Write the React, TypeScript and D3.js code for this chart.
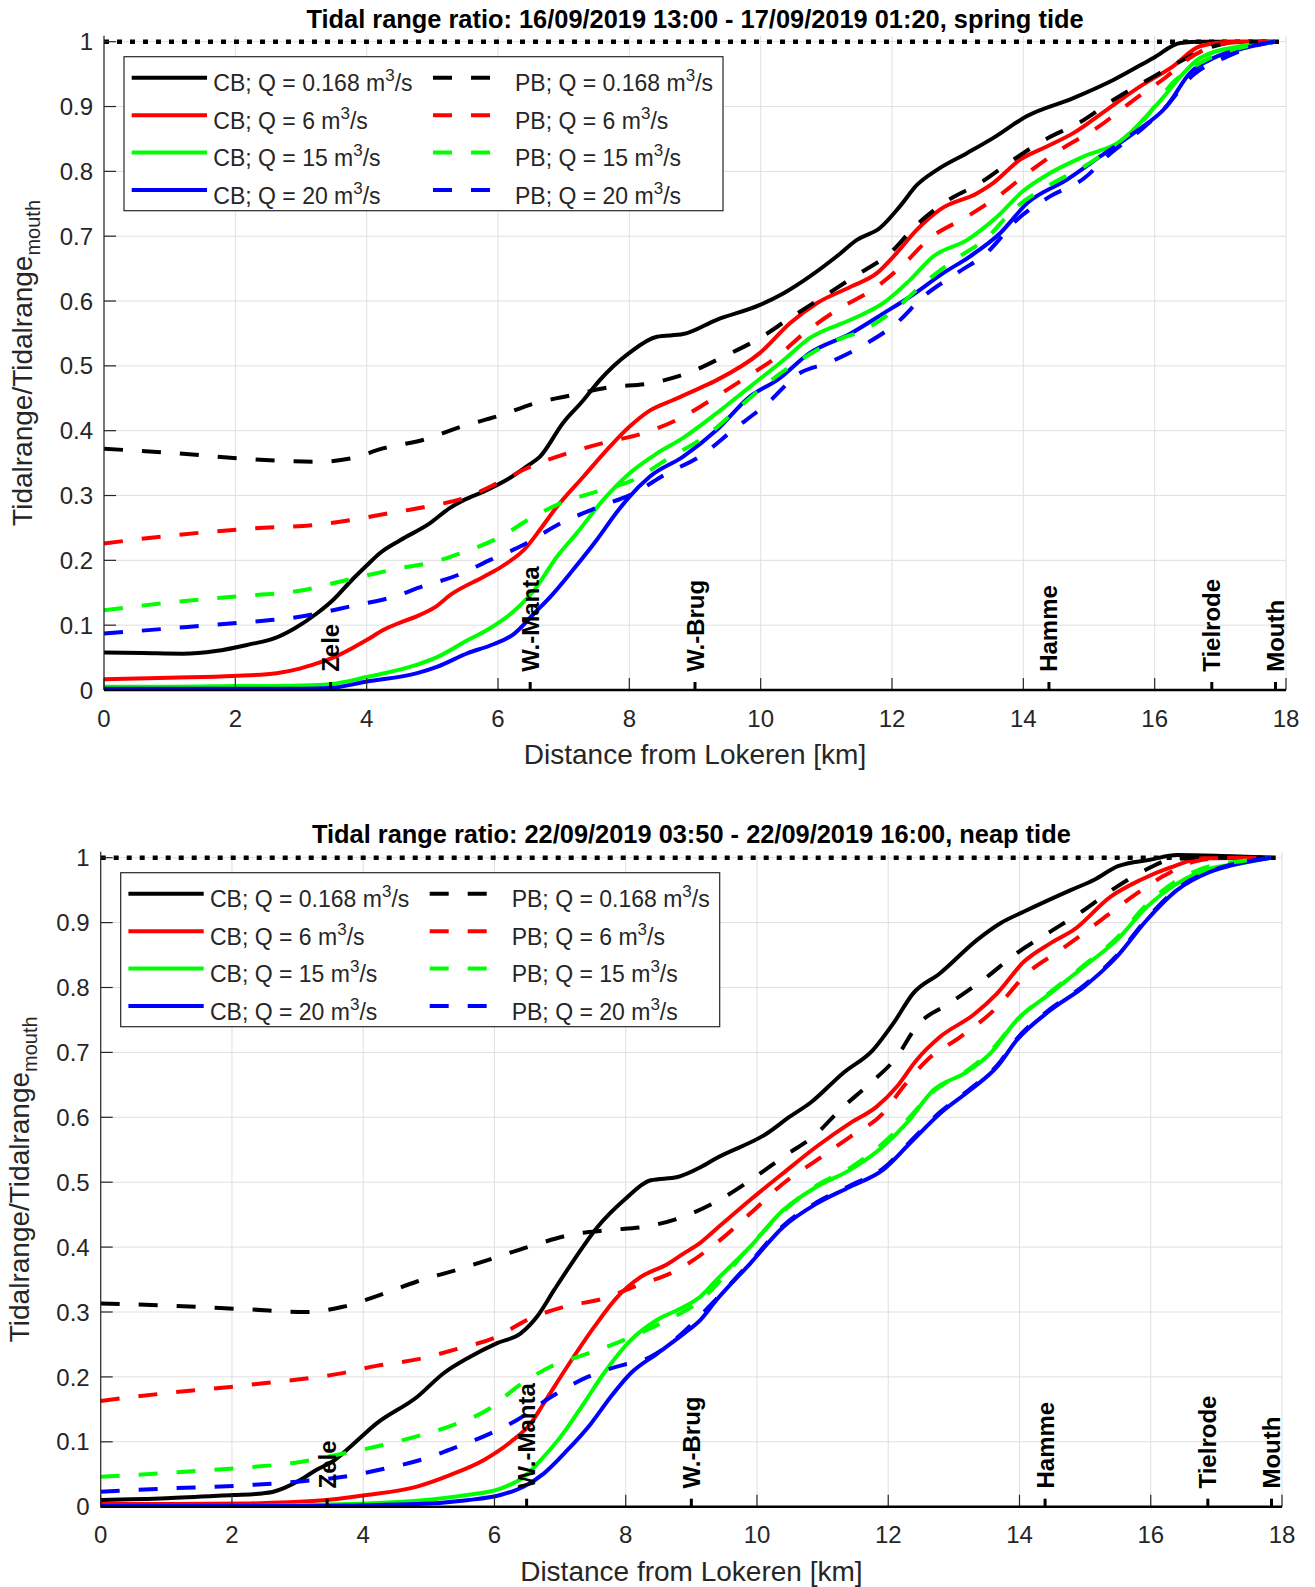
import React from 'react';
import * as d3 from 'd3';

type Pt = [number, number];

// ---------- DATA ----------
const flows = ['0.168', '6', '15', '20'];
const colors = ['#000000', '#ff0000', '#00ff00', '#0000ff'];
const xTicks = [0, 2, 4, 6, 8, 10, 12, 14, 16, 18];
const yTicks = [0, 0.1, 0.2, 0.3, 0.4, 0.5, 0.6, 0.7, 0.8, 0.9, 1];
const locNames = ['Zele', 'W.-Manta', 'W.-Brug', 'Hamme', 'Tielrode', 'Mouth'];
const locKm = [3.45, 6.49, 9.0, 14.39, 16.87, 17.84];

const springTitle = 'Tidal range ratio: 16/09/2019 13:00 - 17/09/2019 01:20, spring tide';
const neapTitle = 'Tidal range ratio: 22/09/2019 03:50 - 22/09/2019 16:00, neap tide';

// Spring tide, closed boundary (CB)
const springCB0168: Pt[] = [[0,0.058],[0.6,0.057],[1.2,0.056],[1.7,0.06],[2.2,0.07],[2.6,0.08],[2.9,0.095],[3.24,0.118],[3.5,0.14],[3.75,0.167],[4.0,0.192],[4.2,0.211],[4.51,0.231],[4.96,0.257],[5.27,0.281],[5.5,0.294],[5.78,0.306],[6.18,0.327],[6.44,0.345],[6.64,0.36],[6.99,0.412],[7.3,0.447],[7.55,0.478],[8.0,0.52],[8.42,0.545],[8.82,0.549],[9.33,0.571],[9.99,0.594],[10.35,0.612],[10.75,0.638],[11.16,0.669],[11.46,0.694],[11.82,0.713],[12.12,0.746],[12.38,0.779],[12.68,0.802],[13.14,0.828],[13.55,0.852],[14.05,0.885],[14.76,0.913],[15.37,0.941],[15.98,0.975],[16.39,0.998],[16.7,1.0],[17.83,1.0]];
const springCB6: Pt[] = [[0,0.0165],[1,0.019],[1.97,0.0216],[2.63,0.026],[2.98,0.033],[3.24,0.041],[3.49,0.05],[3.75,0.063],[4.0,0.077],[4.26,0.093],[4.51,0.104],[4.77,0.114],[5.03,0.127],[5.28,0.147],[5.79,0.175],[6.05,0.19],[6.44,0.221],[6.6,0.242],[6.9,0.283],[7.3,0.329],[7.7,0.375],[8.0,0.406],[8.31,0.431],[8.66,0.447],[9.08,0.466],[9.33,0.478],[9.99,0.52],[10.45,0.566],[10.86,0.597],[11.37,0.622],[11.77,0.643],[12.07,0.674],[12.38,0.71],[12.73,0.741],[13.29,0.766],[13.54,0.782],[13.95,0.818],[14.35,0.838],[14.76,0.859],[15.27,0.895],[15.78,0.931],[16.28,0.962],[16.69,0.993],[17.2,1.0],[17.83,1.0]];
const springCB15: Pt[] = [[0,0.005],[1,0.005],[2,0.006],[3,0.007],[3.44,0.009],[4.0,0.02],[4.77,0.039],[5.08,0.051],[5.54,0.077],[5.84,0.093],[6.2,0.118],[6.55,0.154],[6.9,0.206],[7.2,0.242],[7.6,0.293],[8.0,0.334],[8.42,0.365],[8.82,0.389],[9.33,0.427],[9.84,0.468],[10.35,0.509],[10.75,0.543],[11.37,0.571],[11.87,0.597],[12.28,0.633],[12.63,0.669],[13.14,0.694],[13.6,0.73],[14.0,0.77],[14.4,0.797],[14.92,0.823],[15.5,0.848],[15.9,0.888],[16.18,0.92],[16.39,0.946],[16.69,0.975],[17.3,0.993],[17.83,1.0]];
const springCB20: Pt[] = [[0,0.002],[3,0.002],[3.44,0.003],[4.0,0.013],[4.77,0.026],[5.08,0.036],[5.54,0.057],[5.89,0.069],[6.25,0.087],[6.55,0.118],[6.8,0.144],[7.14,0.185],[7.5,0.231],[7.8,0.273],[8.0,0.298],[8.31,0.329],[8.82,0.36],[9.33,0.401],[9.84,0.453],[10.25,0.478],[10.75,0.52],[11.37,0.55],[11.87,0.581],[12.28,0.607],[12.78,0.643],[13.19,0.669],[13.65,0.705],[14.06,0.751],[14.66,0.787],[15.17,0.823],[15.68,0.859],[16.18,0.9],[16.54,0.952],[16.9,0.975],[17.4,0.991],[17.83,1.0]];

// Spring tide, prescribed boundary (PB)
const springPB0168: Pt[] = [[0,0.372],[1,0.366],[2.24,0.356],[3.24,0.352],[3.75,0.357],[4.26,0.373],[4.87,0.386],[5.43,0.406],[6.05,0.424],[6.55,0.442],[7.14,0.455],[7.7,0.467],[8.31,0.473],[8.92,0.49],[9.43,0.514],[9.99,0.543],[10.45,0.574],[10.96,0.607],[11.46,0.64],[11.97,0.674],[12.38,0.718],[12.83,0.754],[13.34,0.782],[13.85,0.818],[14.35,0.85],[14.87,0.876],[15.37,0.91],[15.98,0.946],[16.59,0.98],[16.9,0.993],[17.3,1.0],[17.83,1.0]];
const springPB6: Pt[] = [[0,0.226],[1,0.238],[2.24,0.249],[3.24,0.255],[3.75,0.262],[4.36,0.273],[4.92,0.283],[5.48,0.296],[5.99,0.319],[6.44,0.342],[7.05,0.365],[7.6,0.381],[8.21,0.396],[8.77,0.419],[9.33,0.453],[9.79,0.483],[10.25,0.514],[10.66,0.55],[11.16,0.586],[11.77,0.622],[12.17,0.656],[12.58,0.697],[13.14,0.73],[13.65,0.764],[14.06,0.797],[14.56,0.833],[15.12,0.867],[15.68,0.91],[16.18,0.946],[16.49,0.972],[17.1,0.998],[17.4,1.0],[17.83,1.0]];
const springPB15: Pt[] = [[0,0.123],[1,0.135],[1.97,0.144],[2.98,0.153],[3.75,0.171],[4.51,0.188],[5.0,0.197],[5.43,0.211],[6.05,0.237],[6.5,0.265],[6.95,0.288],[7.5,0.306],[8.06,0.324],[8.56,0.355],[9.22,0.396],[9.74,0.442],[10.1,0.473],[10.6,0.509],[11.1,0.537],[11.62,0.558],[12.07,0.589],[12.48,0.627],[12.99,0.666],[13.44,0.697],[13.85,0.741],[14.4,0.779],[14.92,0.807],[15.43,0.843],[15.84,0.88],[16.28,0.937],[16.69,0.967],[17.4,0.993],[17.83,1.0]];
const springPB20: Pt[] = [[0,0.087],[1,0.095],[1.97,0.103],[2.98,0.113],[3.75,0.129],[4.51,0.147],[4.77,0.157],[5.38,0.177],[5.89,0.201],[6.39,0.224],[6.95,0.257],[7.55,0.283],[8.06,0.303],[8.57,0.334],[9.07,0.36],[9.58,0.401],[10.1,0.442],[10.6,0.489],[11.01,0.504],[11.62,0.535],[12.07,0.566],[12.48,0.607],[12.99,0.643],[13.44,0.674],[13.9,0.725],[14.4,0.761],[14.92,0.789],[15.33,0.828],[15.79,0.864],[16.13,0.895],[16.59,0.949],[17.1,0.977],[17.7,0.998],[17.83,1.0]];

// Neap tide, closed boundary (CB)
const neapCB0168: Pt[] = [[0,0.0103],[1,0.013],[2.02,0.018],[2.4,0.02],[2.63,0.023],[2.8,0.029],[3.04,0.041],[3.29,0.057],[3.54,0.07],[3.8,0.092],[4.2,0.128],[4.82,0.169],[5.23,0.206],[5.63,0.231],[6.04,0.252],[6.4,0.267],[6.65,0.293],[6.91,0.334],[7.21,0.38],[7.57,0.431],[7.98,0.473],[8.38,0.503],[8.79,0.508],[9.14,0.523],[9.38,0.537],[10.15,0.575],[10.5,0.601],[10.81,0.622],[11.31,0.668],[11.77,0.704],[12.08,0.745],[12.38,0.791],[12.79,0.822],[13.35,0.873],[13.71,0.899],[14.07,0.917],[14.78,0.95],[15.14,0.966],[15.5,0.987],[16.0,0.997],[16.4,1.004],[17.0,1.003],[17.83,1.0]];
const neapCB6: Pt[] = [[0,0.004],[1,0.004],[2.27,0.005],[3.29,0.009],[4.05,0.018],[4.82,0.031],[5.33,0.049],[5.84,0.072],[6.25,0.1],[6.55,0.128],[6.75,0.159],[7.11,0.216],[7.52,0.277],[7.88,0.324],[8.23,0.354],[8.64,0.374],[8.88,0.39],[9.14,0.407],[9.38,0.428],[9.9,0.473],[10.4,0.514],[10.91,0.555],[11.42,0.591],[11.82,0.616],[12.13,0.647],[12.43,0.688],[12.79,0.724],[13.3,0.758],[13.66,0.791],[14.07,0.84],[14.47,0.868],[14.83,0.889],[15.39,0.94],[15.85,0.966],[16.3,0.985],[16.8,0.999],[17.83,1.0]];
const neapCB15: Pt[] = [[0,0.001],[2,0.001],[3.8,0.004],[4.82,0.009],[5.58,0.018],[6.09,0.028],[6.45,0.046],[6.75,0.077],[7.01,0.108],[7.36,0.159],[7.67,0.206],[8.08,0.257],[8.48,0.288],[8.89,0.308],[9.14,0.324],[9.38,0.349],[9.9,0.401],[10.4,0.457],[10.91,0.493],[11.42,0.519],[11.92,0.555],[12.28,0.591],[12.69,0.642],[13.2,0.67],[13.56,0.699],[13.96,0.75],[14.47,0.791],[14.98,0.832],[15.48,0.873],[15.94,0.924],[16.4,0.96],[16.9,0.983],[17.3,0.99],[17.83,1.0]];
const neapCB20: Pt[] = [[0,0.001],[3,0.001],[4.82,0.004],[5.58,0.01],[6.09,0.018],[6.45,0.031],[6.75,0.051],[7.11,0.087],[7.47,0.128],[7.77,0.169],[8.08,0.206],[8.48,0.236],[8.89,0.267],[9.14,0.288],[9.38,0.318],[9.9,0.375],[10.4,0.431],[10.91,0.467],[11.42,0.493],[11.92,0.519],[12.33,0.56],[12.79,0.606],[13.25,0.642],[13.66,0.678],[13.96,0.719],[14.47,0.765],[14.98,0.801],[15.48,0.847],[15.94,0.904],[16.4,0.95],[16.9,0.978],[17.3,0.99],[17.83,1.0]];

// Neap tide, prescribed boundary (PB)
const neapPB0168: Pt[] = [[0,0.313],[1,0.31],[2.27,0.304],[3.13,0.3],[3.69,0.308],[4.25,0.326],[4.82,0.347],[5.43,0.365],[5.99,0.383],[6.6,0.403],[7.16,0.419],[7.72,0.426],[8.33,0.432],[8.88,0.447],[9.38,0.47],[9.9,0.503],[10.4,0.539],[10.91,0.575],[11.26,0.611],[11.72,0.652],[12.13,0.693],[12.43,0.74],[12.94,0.776],[13.45,0.812],[13.96,0.853],[14.47,0.886],[14.98,0.919],[15.48,0.955],[15.9,0.98],[16.3,0.997],[16.8,1.0],[17.83,1.0]];
const neapPB6: Pt[] = [[0,0.163],[1,0.175],[2.02,0.185],[2.37,0.189],[3.64,0.205],[4.2,0.217],[4.82,0.227],[5.43,0.243],[6.04,0.262],[6.5,0.288],[7.06,0.308],[7.67,0.321],[8.13,0.339],[8.79,0.365],[9.38,0.406],[9.9,0.452],[10.4,0.498],[10.91,0.534],[11.42,0.57],[11.92,0.606],[12.23,0.647],[12.59,0.688],[13.1,0.724],[13.61,0.765],[14.12,0.822],[14.63,0.858],[15.14,0.896],[15.65,0.935],[16.2,0.972],[16.7,0.995],[17.2,1.0],[17.83,1.0]];
const neapPB15: Pt[] = [[0,0.046],[1,0.052],[2.02,0.059],[3.04,0.069],[3.7,0.082],[4.3,0.095],[4.87,0.11],[5.43,0.128],[5.94,0.152],[6.35,0.185],[6.86,0.216],[7.42,0.236],[7.98,0.257],[8.54,0.283],[9.14,0.318],[9.5,0.355],[9.9,0.402],[10.4,0.455],[10.91,0.495],[11.42,0.522],[11.92,0.56],[12.28,0.595],[12.69,0.64],[13.2,0.672],[13.56,0.702],[13.96,0.75],[14.47,0.793],[14.98,0.834],[15.48,0.876],[15.94,0.928],[16.4,0.965],[16.9,0.987],[17.4,0.995],[17.83,1.0]];
const neapPB20: Pt[] = [[0,0.023],[1,0.028],[2.02,0.032],[3.04,0.039],[3.7,0.046],[4.3,0.058],[4.87,0.072],[5.43,0.092],[5.94,0.113],[6.35,0.134],[6.86,0.169],[7.42,0.2],[7.98,0.219],[8.25,0.225],[8.48,0.237],[8.89,0.27],[9.38,0.32],[9.9,0.377],[10.4,0.433],[10.91,0.469],[11.42,0.495],[11.92,0.521],[12.33,0.562],[12.79,0.608],[13.25,0.644],[13.66,0.68],[13.96,0.721],[14.47,0.767],[14.98,0.803],[15.48,0.849],[15.94,0.906],[16.4,0.952],[16.9,0.979],[17.3,0.991],[17.83,1.0]];

const springCB = [springCB0168, springCB6, springCB15, springCB20];
const springPB = [springPB0168, springPB6, springPB15, springPB20];
const neapCB = [neapCB0168, neapCB6, neapCB15, neapCB20];
const neapPB = [neapPB0168, neapPB6, neapPB15, neapPB20];

// ---------- LAYOUT ----------
const FONT = '"Liberation Sans", Arial, Helvetica, sans-serif';
const AXC = '#262626';

type Layout = { x0: number; x1: number; y0: number; y1: number; titleY: number; tickY: number; xLabelY: number; legL: number; legT: number };
const topLayout: Layout = { x0: 104, x1: 1286, y0: 690, y1: 41.7, titleY: 28.3, tickY: 726.7, xLabelY: 764, legL: 124, legT: 56.7 };
const botLayout: Layout = { x0: 100.7, x1: 1282, y0: 1506.7, y1: 857.7, titleY: 843.3, tickY: 1543.3, xLabelY: 1581, legL: 120.7, legT: 872.7 };

function Panel({ L, title, cb, pb }: { L: Layout; title: string; cb: Pt[][]; pb: Pt[][] }) {
  const x = d3.scaleLinear().domain([0, 18]).range([L.x0, L.x1]);
  const y = d3.scaleLinear().domain([0, 1]).range([L.y0, L.y1]);
  const yTopEdge = y(1.009);
  const line = d3.line<Pt>().x(d => x(d[0])).y(d => y(d[1])).curve(d3.curveMonotoneX);
  const lw = 4;
  const cx = (L.x0 + L.x1) / 2;
  const cy = (L.y0 + yTopEdge) / 2;
  const rowY = (i: number) => L.legT + 21 + i * 37.45;
  return (
    <g>
      {/* grid */}
      {xTicks.map(t => (
        <line key={'gx' + t} x1={x(t)} x2={x(t)} y1={L.y0} y2={yTopEdge} stroke="#dfdfdf" strokeWidth={1} />
      ))}
      {yTicks.map(t => (
        <line key={'gy' + t} x1={L.x0} x2={L.x1} y1={y(t)} y2={y(t)} stroke="#dfdfdf" strokeWidth={1} />
      ))}
      {/* reference dotted line */}
      <line x1={x(0)} x2={x(18)} y1={y(1)} y2={y(1)} stroke="#000" strokeWidth={4.5} strokeDasharray="5 8" />
      {/* curves */}
      {cb.map((s, i) => (
        <path key={'cb' + i} d={line(s) || ''} fill="none" stroke={colors[i]} strokeWidth={lw} strokeLinejoin="round" />
      ))}
      {pb.map((s, i) => (
        <path key={'pb' + i} d={line(s) || ''} fill="none" stroke={colors[i]} strokeWidth={lw} strokeDasharray="19 19" />
      ))}
      {/* axes */}
      <line x1={L.x0} x2={L.x0} y1={L.y0} y2={yTopEdge} stroke={AXC} strokeWidth={1.2} />
      {yTicks.map(t => (
        <g key={'yt' + t}>
          <line x1={L.x0} x2={L.x0 + 12} y1={y(t)} y2={y(t)} stroke={AXC} strokeWidth={1.2} />
          <text x={L.x0 - 11} y={y(t)} dy="0.36em" textAnchor="end" fontSize={24} fill={AXC} fontFamily={FONT}>{String(t)}</text>
        </g>
      ))}
      {xTicks.map(t => (
        <g key={'xt' + t}>
          <line x1={x(t)} x2={x(t)} y1={L.y0} y2={L.y0 - 12} stroke={AXC} strokeWidth={1.2} />
          <text x={x(t)} y={L.tickY} textAnchor="middle" fontSize={24} fill={AXC} fontFamily={FONT}>{String(t)}</text>
        </g>
      ))}
      <line x1={L.x0} x2={L.x1} y1={L.y0} y2={L.y0} stroke="#000" strokeWidth={2.6} />
      {/* locations */}
      {locNames.map((n, i) => (
        <g key={n}>
          <line x1={x(locKm[i])} x2={x(locKm[i])} y1={L.y0} y2={L.y0 - 8} stroke="#000" strokeWidth={3} />
          <text transform={`translate(${x(locKm[i])},${y(0.028)}) rotate(-90)`} dominantBaseline="central" fontSize={24} fontWeight="bold" fill="#000" fontFamily={FONT}>{n}</text>
        </g>
      ))}
      {/* legend */}
      <rect x={L.legL} y={L.legT} width={599} height={154} fill="#fff" stroke={AXC} strokeWidth={1.2} />
      {flows.map((q, i) => (
        <g key={'lg' + i}>
          <line x1={L.legL + 7.7} x2={L.legL + 83} y1={rowY(i)} y2={rowY(i)} stroke={colors[i]} strokeWidth={lw} />
          <text x={L.legL + 89.3} y={rowY(i) + 13.5} fontSize={23} fill={AXC} fontFamily={FONT}>
            {`CB; Q = ${q} m`}<tspan dy={-10} fontSize={17}>3</tspan><tspan dy={10}>/s</tspan>
          </text>
          <line x1={L.legL + 309} x2={L.legL + 366} y1={rowY(i)} y2={rowY(i)} stroke={colors[i]} strokeWidth={lw} strokeDasharray="19 19" />
          <text x={L.legL + 391} y={rowY(i) + 13.5} fontSize={23} fill={AXC} fontFamily={FONT}>
            {`PB; Q = ${q} m`}<tspan dy={-10} fontSize={17}>3</tspan><tspan dy={10}>/s</tspan>
          </text>
        </g>
      ))}
      {/* labels */}
      <text x={cx} y={L.titleY} textAnchor="middle" fontSize={25.4} fontWeight="bold" fill="#000" fontFamily={FONT}>{title}</text>
      <text x={cx} y={L.xLabelY} textAnchor="middle" fontSize={28} fill={AXC} fontFamily={FONT}>Distance from Lokeren [km]</text>
      <text transform={`translate(${L.x0 - 72},${cy}) rotate(-90)`} textAnchor="middle" fontSize={28} fill={AXC} fontFamily={FONT}>
        Tidalrange/Tidalrange<tspan dy={8} fontSize={20}>mouth</tspan>
      </text>
    </g>
  );
}

export default function App() {
  return (
    <svg width={1315} height={1587} viewBox="0 0 1315 1587" style={{ position: 'absolute', left: 0, top: 0, background: '#fff' }}>
      <rect x={0} y={0} width={1315} height={1587} fill="#fff" />
      <Panel L={topLayout} title={springTitle} cb={springCB} pb={springPB} />
      <Panel L={botLayout} title={neapTitle} cb={neapCB} pb={neapPB} />
    </svg>
  );
}
